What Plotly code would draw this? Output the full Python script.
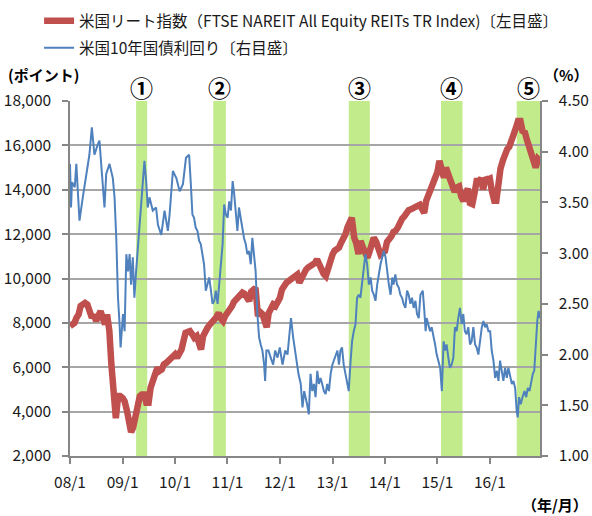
import plotly.graph_objects as go
import pandas as pd

# ---------------- data ----------------
# US REIT index (left axis), semi-monthly readings (1st and 15th), 2008-01 .. 2016-12
reit_2008 = [7855, 7930, 8000, 8230, 8380, 8760, 8830, 8900, 8830, 8600, 8230, 8380,
             8080, 8310, 8530, 8230, 7930, 8380, 7630, 6130, 5000, 3700, 4700, 4700]
reit_2009 = [4620, 4470, 4020, 3570, 3080, 3270, 3720, 4320, 4700, 4770, 4770, 4400,
             4400, 5080, 5530, 5680, 5980, 5830, 5900, 6130, 6200, 6280, 6430, 6500]
reit_2010 = [6580, 6430, 6580, 6800, 7180, 7550, 7600, 7630, 7480, 7330, 7410, 7100,
             6800, 7400, 7700, 7780, 7930, 8000, 8150, 8250, 8450, 8200, 8080, 8300]
reit_2011 = [8450, 8550, 8750, 8950, 9060, 9100, 9200, 9360, 9300, 9150, 8980, 9400,
             9510, 9580, 8300, 8500, 8400, 8100, 7800, 8450, 8700, 8830, 8760, 8950]
reit_2012 = [9130, 9500, 9700, 9810, 9880, 9950, 10030, 10150, 10180, 9810, 10050, 10300,
             10400, 10500, 10560, 10600, 10700, 10860, 10600, 10400, 10200, 10110, 10500, 10800]
reit_2013 = [11080, 11250, 11350, 11390, 11600, 11750, 11990, 12300, 12500, 12740, 11840, 11600,
             11100, 11690, 11400, 11100, 10940, 11200, 11500, 11840, 11650, 11400, 11080, 11150]
reit_2014 = [11230, 11650, 11750, 11900, 12100, 12140, 12300, 12550, 12700, 12800, 13000, 13080,
             13120, 13190, 13230, 13270, 13320, 13200, 12950, 13500, 13790, 14050, 14200, 14450]
reit_2015 = [14800, 15300, 15000, 14550, 15000, 14750, 14350, 14000, 13900, 14100, 14150, 13700,
             13490, 13800, 14050, 13400, 13350, 13800, 14400, 14400, 14500, 14000, 14540, 14450]
reit_2016 = [14500, 13940, 13500, 13500, 14450, 14950, 15330, 15620, 15830, 15930, 16200, 16500,
             16800, 17100, 17100, 16650, 16580, 16250, 15950, 15650, 15200, 15000, 15400, 15320]

# US 10-year treasury yield (right axis, %)
ust_dates = [
    "2008-01-01", "2008-01-08", "2008-01-15", "2008-02-03", "2008-02-14", "2008-03-07", "2008-03-30",
    "2008-04-22", "2008-05-15", "2008-06-01", "2008-06-19", "2008-07-12", "2008-07-24", "2008-08-05",
    "2008-08-16", "2008-08-28", "2008-09-09", "2008-10-02", "2008-10-25", "2008-11-06", "2008-11-18",
    "2008-11-30", "2008-12-11", "2008-12-18", "2009-01-04", "2009-01-15", "2009-01-27", "2009-02-08",
    "2009-02-19", "2009-03-01", "2009-03-13", "2009-03-24", "2009-04-05", "2009-04-17", "2009-04-28",
    "2009-05-10", "2009-05-21", "2009-06-02", "2009-06-14", "2009-06-25", "2009-07-07", "2009-07-30",
    "2009-08-22", "2009-09-04", "2009-09-27", "2009-10-20", "2009-11-12", "2009-11-24", "2009-12-17",
    "2010-01-10", "2010-02-02", "2010-02-25", "2010-03-18",
    "2010-04-09", "2010-04-21", "2010-05-02", "2010-05-13", "2010-05-25", "2010-06-06", "2010-06-18",
    "2010-06-29", "2010-07-11", "2010-07-22", "2010-08-03", "2010-08-15", "2010-08-27", "2010-09-08",
    "2010-09-19", "2010-10-01", "2010-10-12", "2010-10-24", "2010-11-05", "2010-11-16", "2010-11-28",
    "2010-12-09", "2010-12-21", "2011-01-02", "2011-01-13", "2011-01-25", "2011-02-06", "2011-02-17",
    "2011-03-01", "2011-03-11", "2011-03-22", "2011-04-03", "2011-04-15", "2011-04-26", "2011-05-08",
    "2011-05-19", "2011-05-31", "2011-06-12", "2011-06-23", "2011-07-05", "2011-07-16", "2011-07-28",
    "2011-08-09", "2011-08-20", "2011-09-01", "2011-09-13", "2011-09-20", "2011-09-29", "2011-10-13",
    "2011-10-29", "2011-11-15", "2011-11-29", "2011-12-15", "2011-12-31", "2012-01-19", "2012-02-07",
    "2012-02-23", "2012-03-09", "2012-03-18", "2012-04-02", "2012-04-21", "2012-05-09", "2012-05-25",
    "2012-06-06", "2012-06-18", "2012-06-29",
    "2012-07-08", "2012-07-20", "2012-08-01", "2012-08-13", "2012-08-25", "2012-09-05", "2012-09-17",
    "2012-09-28", "2012-10-10", "2012-10-21", "2012-11-02", "2012-11-14", "2012-11-25", "2012-12-07",
    "2012-12-19", "2012-12-31", "2013-01-11", "2013-01-23", "2013-02-04", "2013-02-15", "2013-02-25",
    "2013-03-08", "2013-03-20", "2013-04-01", "2013-04-12", "2013-04-24", "2013-05-05", "2013-05-17",
    "2013-05-29", "2013-06-10", "2013-06-21", "2013-07-02", "2013-07-14", "2013-07-26", "2013-08-07",
    "2013-08-18", "2013-08-30", "2013-09-11", "2013-09-23", "2013-10-04", "2013-10-16", "2013-10-27",
    "2013-11-08", "2013-11-20", "2013-12-01", "2013-12-13", "2013-12-24", "2014-01-05", "2014-01-17",
    "2014-01-28", "2014-02-09", "2014-02-21", "2014-03-02", "2014-03-14", "2014-03-26", "2014-04-07",
    "2014-04-18", "2014-04-30", "2014-05-11", "2014-05-23", "2014-06-04", "2014-06-15", "2014-06-27",
    "2014-07-08", "2014-07-20", "2014-08-01", "2014-08-12", "2014-08-24", "2014-09-05",
    "2014-09-21", "2014-10-02", "2014-10-11", "2014-10-18", "2014-10-30", "2014-11-11", "2014-11-22",
    "2014-12-04", "2014-12-16", "2014-12-27", "2015-01-08", "2015-01-20", "2015-02-01", "2015-02-13",
    "2015-02-24", "2015-03-06", "2015-03-18", "2015-03-29", "2015-04-10", "2015-04-22", "2015-05-03",
    "2015-05-15", "2015-05-26", "2015-06-07", "2015-06-19", "2015-06-30", "2015-07-11", "2015-07-23",
    "2015-08-04", "2015-08-16", "2015-08-27", "2015-09-08", "2015-09-20", "2015-10-01", "2015-10-13",
    "2015-10-25", "2015-11-06", "2015-11-17", "2015-11-29", "2015-12-10", "2015-12-22", "2016-01-03",
    "2016-01-14", "2016-01-26", "2016-02-07", "2016-02-19", "2016-03-01", "2016-03-12", "2016-03-23",
    "2016-04-04", "2016-04-16", "2016-04-28", "2016-05-09", "2016-05-21", "2016-06-02", "2016-06-13",
    "2016-06-25", "2016-07-06", "2016-07-13", "2016-07-22", "2016-08-03", "2016-08-15", "2016-08-29",
    "2016-09-10", "2016-09-21", "2016-10-03", "2016-10-14", "2016-10-26", "2016-11-05", "2016-11-12",
    "2016-11-19", "2016-11-26", "2016-12-05", "2016-12-15",
]
ust_yield = [
    3.88, 3.45, 3.70, 3.65, 3.88, 3.32, 3.55,
    3.74, 3.97, 4.24, 3.97, 4.07, 4.11, 3.88,
    3.71, 3.45, 3.78, 3.88, 3.74, 3.55, 3.15,
    2.56, 2.30, 2.07, 2.40, 2.23, 2.99, 2.82,
    2.99, 2.69, 2.96, 2.56, 2.82, 3.05, 3.28,
    3.48, 3.68, 3.91, 3.71, 3.45, 3.55, 3.42,
    3.45, 3.28, 3.18, 3.42, 3.22, 3.38, 3.81,
    3.74, 3.61, 3.68, 3.94,
    3.97, 3.68, 3.38, 3.35, 3.25, 3.22, 3.12,
    3.09, 2.99, 2.89, 2.63, 2.69, 2.76, 2.63,
    2.50, 2.53, 2.63, 2.50, 2.69, 2.82, 3.09,
    3.48, 3.38, 3.35, 3.51, 3.42, 3.71, 3.58,
    3.42, 3.22, 3.45, 3.35, 3.22, 3.15, 3.09,
    2.99, 3.02, 2.89, 3.15, 2.96, 2.82, 2.40,
    2.17, 2.10, 2.04, 1.90, 1.74, 2.04, 2.04,
    1.97, 1.90, 2.04, 1.97, 2.07, 1.90, 2.04,
    2.00, 2.23, 2.36, 2.17, 1.97, 1.81, 1.71,
    1.48, 1.64, 1.58,
    1.51, 1.41, 1.81, 1.64, 1.71, 1.58, 1.84,
    1.71, 1.77, 1.71, 1.64, 1.61, 1.71, 1.64,
    1.81, 1.90, 1.94, 2.00, 2.04, 1.90, 2.04,
    2.07, 1.90, 1.81, 1.71, 1.64, 1.90, 2.13,
    2.23, 2.30, 2.56, 2.59, 2.56, 2.69, 2.82,
    2.99, 2.89, 2.69, 2.76, 2.63, 2.59, 2.53,
    2.69, 2.82, 2.89, 2.96, 3.02, 2.96, 2.79,
    2.69, 2.59, 2.76, 2.69, 2.79, 2.69, 2.66,
    2.59, 2.56, 2.50, 2.46, 2.63, 2.59, 2.50,
    2.56, 2.46, 2.53, 2.40, 2.36, 2.59,
    2.63, 2.43, 2.23, 2.36, 2.30, 2.23, 2.27,
    2.20, 2.10, 2.00, 1.94, 1.87, 1.64, 2.13,
    2.04, 2.10, 1.97, 1.87, 1.90, 1.97, 2.27,
    2.23, 2.36, 2.46, 2.30, 2.40, 2.23, 2.20,
    2.27, 2.10, 2.13, 2.27, 2.10, 2.07, 2.00,
    2.13, 2.27, 2.33, 2.27, 2.30, 2.23, 2.23,
    2.04, 1.94, 1.77, 1.84, 1.74, 1.94, 1.84,
    1.74, 1.87, 1.77, 1.87, 1.77, 1.71, 1.74,
    1.67, 1.44, 1.38, 1.58, 1.51, 1.58, 1.64,
    1.58, 1.67, 1.64, 1.74, 1.81, 1.84, 2.00,
    2.23, 2.33, 2.43, 2.36,
]

# highlighted periods
band_starts = ["2009-04-05", "2010-09-24", "2013-04-24", "2015-01-26", "2016-07-06"]
band_ends = ["2009-06-21", "2010-12-21", "2013-09-18", "2015-06-25", "2016-12-15"]
band_labels = ["①", "②", "③", "④", "⑤"]

x_tick_dates = ["2008-01-01", "2009-01-01", "2010-01-01", "2011-01-01", "2012-01-01",
                "2013-01-01", "2014-01-01", "2015-01-01", "2016-01-01"]
x_tick_text = ["08/1", "09/1", "10/1", "11/1", "12/1", "13/1", "14/1", "15/1", "16/1"]
left_ticks = [2000, 4000, 6000, 8000, 10000, 12000, 14000, 16000, 18000]
right_ticks = [1.0, 1.5, 2.0, 2.5, 3.0, 3.5, 4.0, 4.5]

reit_name = "米国リート指数（FTSE NAREIT All Equity REITs TR Index)〔左目盛〕"
ust_name = "米国10年国債利回り〔右目盛〕"

# ---------------- figure ----------------
reit_values = (reit_2008 + reit_2009 + reit_2010 + reit_2011 + reit_2012 +
               reit_2013 + reit_2014 + reit_2015 + reit_2016)
reit_dates = pd.date_range("2008-01-01", periods=len(reit_values), freq="SMS")

FONT = "Noto Sans CJK JP"
TXT = "#1a1a1a"
AX = "#868686"

fig = go.Figure()
fig.add_trace(go.Scatter(x=reit_dates, y=reit_values, name=reit_name, mode="lines",
                         line=dict(color="#C0504D", width=6.5), yaxis="y",
                         legendgroup="a"))
fig.add_trace(go.Scatter(x=pd.to_datetime(ust_dates), y=ust_yield, name=ust_name, mode="lines",
                         line=dict(color="#4F81BD", width=2), yaxis="y2",
                         legendgroup="b"))

shapes = []
annotations = []
for s, e, lab in zip(band_starts, band_ends, band_labels):
    shapes.append(dict(type="rect", xref="x", yref="paper", x0=s, x1=e, y0=0, y1=1,
                       fillcolor="#C2EC8C", line=dict(width=0), layer="between"))
    mid = pd.Timestamp(s) + (pd.Timestamp(e) - pd.Timestamp(s)) / 2
    annotations.append(dict(x=mid, y=1.039, xref="x", yref="paper", text="<b>" + lab + "</b>",
                            xanchor="center", yanchor="middle",
                            showarrow=False, font=dict(family=FONT, size=23, color="#000")))

annotations += [
    dict(x=-0.0574, y=1.0733, xref="paper", yref="paper", text="<b>(ポイント)</b>",
         xanchor="center", yanchor="middle",
         showarrow=False, font=dict(family=FONT, size=15, color="#000")),
    dict(x=1.0553, y=1.0733, xref="paper", yref="paper", text="<b>（%）</b>",
         xanchor="center", yanchor="middle",
         showarrow=False, font=dict(family=FONT, size=15, color="#000")),
    dict(x=1.032, y=-0.138, xref="paper", yref="paper", text="<b>（年/月）</b>",
         xanchor="center", yanchor="middle",
         showarrow=False, font=dict(family=FONT, size=15, color="#000")),
]

fig.update_layout(
    width=592, height=516,
    margin=dict(l=70, r=52, t=101, b=60, autoexpand=False),
    paper_bgcolor="white", plot_bgcolor="white",
    font=dict(family=FONT, size=15, color=TXT),
    showlegend=True,
    legend=dict(xref="container", yref="container", x=0.066, y=0.992,
                xanchor="left", yanchor="top", orientation="v",
                font=dict(family=FONT, size=15.5, color=TXT), tracegroupgap=4,
                bgcolor="rgba(0,0,0,0)", itemclick=False),
    xaxis=dict(type="date", range=["2008-01-01", "2016-12-15"],
               tickvals=x_tick_dates, ticktext=x_tick_text,
               ticks="outside", ticklen=6, tickcolor=AX, tickwidth=1.5,
               showline=True, linecolor=AX, linewidth=1.5, showgrid=False,
               tickfont=dict(size=15.5, color=TXT), ticklabelstandoff=6),
    yaxis=dict(range=[2000, 18000], tickvals=left_ticks, tickformat=",d",
               ticks="outside", ticklen=6, tickcolor=AX, tickwidth=1.5,
               showline=True, linecolor=AX, linewidth=1.5,
               showgrid=True, gridcolor="#A6A6A6", gridwidth=1.5, zeroline=False,
               tickfont=dict(size=15.5, color=TXT), ticklabelstandoff=8),
    yaxis2=dict(range=[1.0, 4.5], tickvals=right_ticks, tickformat=".2f",
                overlaying="y", side="right",
                ticks="outside", ticklen=6, tickcolor=AX, tickwidth=1.5,
                showline=True, linecolor=AX, linewidth=1.5, showgrid=False, zeroline=False,
                tickfont=dict(size=15.5, color=TXT), ticklabelstandoff=8),
    shapes=shapes,
    annotations=annotations,
)

fig.write_html("out.html", config={"displayModeBar": False},
               post_script="document.body.style.margin='0px';")
